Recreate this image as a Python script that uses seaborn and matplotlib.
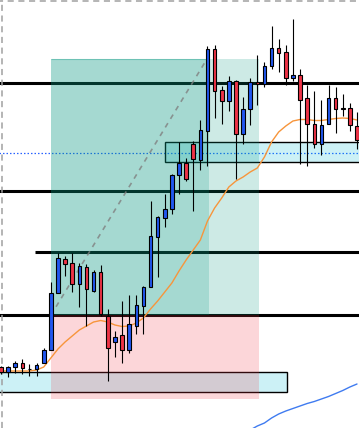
import numpy as np
import pandas as pd
import matplotlib
matplotlib.use("Agg")
import matplotlib.pyplot as plt
from matplotlib.patches import Rectangle
import seaborn as sns

# ---------------- data (price units) ----------------
opens = [61, 56, 61, 65, 59, 59.5, 65, 78, 135, 169, 165, 144, 161, 137, 156, 112.5, 86, 93, 78, 102,
         122.5, 141, 191.5, 210.5, 219, 253.5, 265, 284, 268.5, 297.5, 379, 337.7, 326.7, 346.7, 294.3,
         318.7, 345.7, 344, 361.7, 379.7, 375.7, 349.7, 352.7, 329.7, 303.7, 283.7, 303.7, 329.7, 319.3,
         319.7, 301.7]
closes = [56, 61, 65, 60, 59, 63, 78, 135, 170, 164, 144, 162, 139, 156, 114, 80, 91, 78, 104, 123,
          141, 192, 211, 219, 253, 265, 249.3, 269.3, 298, 379, 337.3, 326.7, 346.7, 294.3, 318.7,
          345.7, 344, 362, 379.7, 375.3, 349.7, 352.7, 327.7, 303.7, 283.7, 302.7, 329.7, 318.7, 319.3,
          302.7, 288]
highs = [62, 62, 67, 69, 64, 65.5, 80, 146, 175, 172.5, 175, 165, 164, 158, 163, 119, 97, 127, 133, 133,
         142.5, 227, 212, 234, 254, 286.5, 270, 287, 308, 382.3, 383, 342, 352, 348, 331.3,
         350.3, 373, 366.5, 402, 389, 383.3, 408.7, 358.7, 342.7, 337, 328.3, 343, 340.7, 333.7,
         324.7, 315.7]
lows = [54, 51, 55, 54, 52, 52, 65, 78, 135, 152.5, 136, 121, 102, 136, 112, 47, 71, 65, 75, 94,
        94, 141, 151, 201, 214, 234, 247, 217, 258.5, 262.3, 310, 304, 317.3, 249.3, 284.3,
        302.7, 323.3, 341.5, 359.3, 356.3, 342.7, 347.3, 263.7, 262.3, 280.3, 273.3, 303.7, 294.7, 312,
        297.3, 278.7]

ma_fast = [57, 57, 57, 57, 57, 58, 61, 70, 79, 86, 92, 98, 102, 106, 107.5, 106, 103, 101.5, 102, 105,
           110, 119, 127, 136, 145, 157, 168, 178, 188, 207, 220, 230, 241, 247, 251, 256, 260, 271,
           286, 296, 302, 307, 308.5, 308.5, 307.5, 307.5, 308.5, 309.5, 310, 309.5, 308]
ma_slow_start = 35
ma_slow = [-2, 2, 5, 10, 14, 17, 19.5, 22, 24.5, 26.5, 29, 31.5, 34.5, 37.5, 41, 44]

# horizontal levels: (price, start index)
levels = [344.7, 236.7, 175.7, 112.7]
level_starts = [-1, -1, 4.8, -1]
dotted_level = 274.7

# position tools
entry_price = 112.7
target_price = 368.7
stop_price = 29.5
zone_left = 7.0
zone_right_a = 36.17
zone_right_b = 29.2
diag_end = 28.9

# rectangles (x0, x1, y0, y1)
box1 = (-1, 40.1, 36.5, 55.7)
box2 = (23.08, 52, 265.7, 286.3)

vline_x = 0.1

# ---------------- figure ----------------
sns.set_style("white")
W, H = 359, 428
fig = plt.figure(figsize=(W / 100, H / 100), dpi=100)
ax = fig.add_axes([0, 0, 1, 1])
ax.set_axis_off()
step = 7.12
ax.set_xlim(-1 / step, (W - 1) / step)
ax.set_ylim(0, H)

idx = np.arange(len(opens))
o = np.array(opens); c = np.array(closes)
hi = np.array(highs); lo = np.array(lows)

# horizontal black levels
for p, s in zip(levels, level_starts):
    ax.hlines(p, s, 60, color="black", lw=2.2, zorder=1)
ax.hlines(dotted_level, -1, 60, color="#2962ff", lw=0.9, linestyles=(0, (1.2, 1.6)), zorder=1)

# cyan boxes (below zones)
for (x0, x1, y0, y1) in (box1, box2):
    ax.add_patch(Rectangle((x0, y0), x1 - x0, y1 - y0, facecolor=(0 / 255, 188 / 255, 212 / 255, 0.2),
                           edgecolor="black", lw=1.0, zorder=1.5))

# position zones
green = (8 / 255, 153 / 255, 129 / 255, 0.2)
redz = (242 / 255, 54 / 255, 69 / 255, 0.2)
ax.add_patch(Rectangle((zone_left, entry_price), zone_right_a - zone_left, target_price - entry_price,
                       facecolor=green, lw=0, zorder=2))
ax.add_patch(Rectangle((zone_left, stop_price), zone_right_a - zone_left, entry_price - stop_price,
                       facecolor=redz, lw=0, zorder=2))
ax.add_patch(Rectangle((zone_left, entry_price), zone_right_b - zone_left, target_price - entry_price,
                       facecolor=green, lw=0, zorder=2))
ax.hlines(target_price, zone_left, zone_right_b, color=(8 / 255, 153 / 255, 129 / 255, 0.35), lw=0.8, zorder=2)
ax.plot([zone_left, diag_end], [entry_price, target_price], color=(0.5, 0.5, 0.5, 0.8), lw=1.2,
        linestyle=(0, (3, 3)), zorder=2.5)

# dashed frame lines
ax.axvline(vline_x, color="#a0a0a0", lw=1.1, linestyle=(0, (4, 3)), zorder=3)
ax.axhline(H - 0.8, color="#a0a0a0", lw=1.1, linestyle=(2, (4, 3)), zorder=3)

# moving averages via seaborn
df_fast = pd.DataFrame({"i": idx, "v": ma_fast})
sns.lineplot(data=df_fast, x="i", y="v", ax=ax, color="#f7953b", lw=1.0, zorder=3, legend=False)
df_slow = pd.DataFrame({"i": np.arange(ma_slow_start, ma_slow_start + len(ma_slow)), "v": ma_slow})
sns.lineplot(data=df_slow, x="i", y="v", ax=ax, color="#3f7bf0", lw=1.0, zorder=3, legend=False)

# candles
up = c >= o
cols = np.where(c > o, "#2157f0", "#ee3346")
ax.vlines(idx, lo, hi, color="black", lw=0.8, zorder=4)
h = c - o
h = np.where(h == 0, 0.5, h)
ax.bar(idx, h, bottom=o, width=0.5, color=cols, edgecolor="black", linewidth=0.8, zorder=5)

fig.savefig("out.png", dpi=100)
